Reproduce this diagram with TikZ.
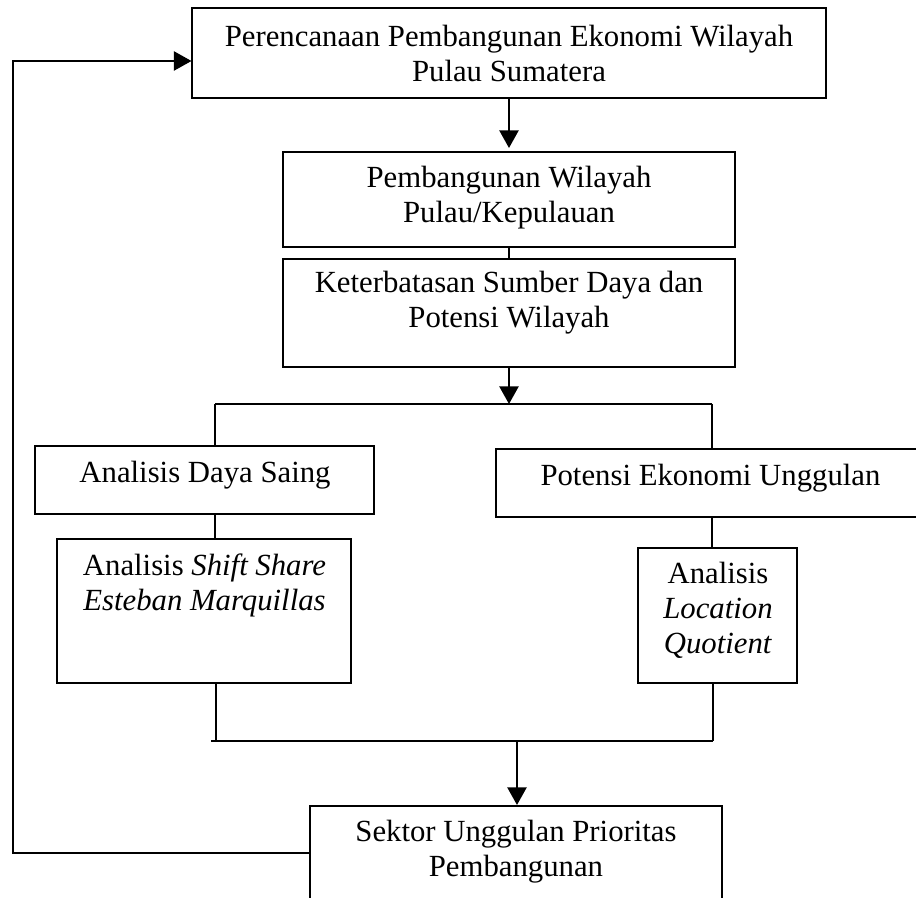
\documentclass[tikz,border=0pt]{standalone}
\usepackage{fontspec}
\setmainfont{Liberation Serif}
\usetikzlibrary{arrows.meta}
\begin{document}
\begin{tikzpicture}[x=0.4pt,y=-0.4pt,line width=0.8pt,
  box/.style={draw,rectangle,inner sep=0pt},
  txt/.style={align=center,inner sep=0pt,font=\fontsize{12.3}{14}\selectfont,anchor=base},
  arr/.style={-{Triangle[length=7pt,width=7.6pt]}}]
\clip (0,0) rectangle (916,898);
% boxes
\node[box,minimum width=253.2pt,minimum height=36pt] (top) at (509,53) {};
\node[box,minimum width=180.8pt,minimum height=38pt] (b2) at (509,199.5) {};
\node[box,minimum width=180.8pt,minimum height=43.2pt] (b3) at (509,313) {};
\node[box,minimum width=135.6pt,minimum height=27.2pt] (daya) at (204.5,480) {};
\node[box,minimum width=117.6pt,minimum height=57.6pt] (shift) at (204,611) {};
\node[box,minimum width=172.8pt,minimum height=27.2pt] (pot) at (712,483) {};
\node[box,minimum width=63.6pt,minimum height=54pt] (lq) at (717.5,615.5) {};
\node[box,minimum width=164.8pt,minimum height=57.6pt] (sek) at (516,878) {};
% texts (base anchor = baseline of last line)
\node[txt] (t1) at (509,82) {Perencanaan Pembangunan Ekonomi Wilayah\\Pulau Sumatera};
\node[txt] (t2) at (509,223) {Pembangunan Wilayah\\Pulau/Kepulauan};
\node[txt] (t3) at (509,328) {Keterbatasan Sumber Daya dan\\Potensi Wilayah};
\node[txt] (t4) at (205,483) {Analisis Daya Saing};
\node[txt] (t5) at (204.5,611) {Analisis \textit{Shift Share}\\\textit{Esteban Marquillas}};
\node[txt] (t6) at (710.5,486) {Potensi Ekonomi Unggulan};
\node[txt] (t7) at (718,654) {Analisis\\\textit{Location}\\\textit{Quotient}};
\node[txt] (t8) at (516,877) {Sektor Unggulan Prioritas\\Pembangunan};
% coordinates
\coordinate (split) at (509,404);
\coordinate (sl) at (215,404);
\coordinate (sr) at (712,404);
\coordinate (ml) at (216,741);
\coordinate (mlend) at (211,741);
\coordinate (mr) at (713,741);
\coordinate (mj) at (517,741);
\coordinate (fb) at (12.7,853);
\coordinate (fbtop) at (12.7,61);
% connectors
\draw[arr,shorten >=1.2pt] (top.south) -- (b2.north);
\draw (b2.south) -- (b3.north);
\draw[arr] (b3.south) -- (split);
\draw (sl) -- (sr);
\draw (sl) -- (sl |- daya.north);
\draw (sr) -- (sr |- pot.north);
\draw (sl |- daya.south) -- (sl |- shift.north);
\draw (sr |- pot.south) -- (sr |- lq.north);
\draw (ml |- shift.south) -- (ml);
\draw (mr |- lq.south) -- (mr);
\draw (mlend) -- (mr);
\draw[arr] (mj) -- (mj |- sek.north);
\draw[arr] (fb -| sek.west) -- (fb) -- (fbtop) -- (fbtop -| top.west);
\end{tikzpicture}
\end{document}
